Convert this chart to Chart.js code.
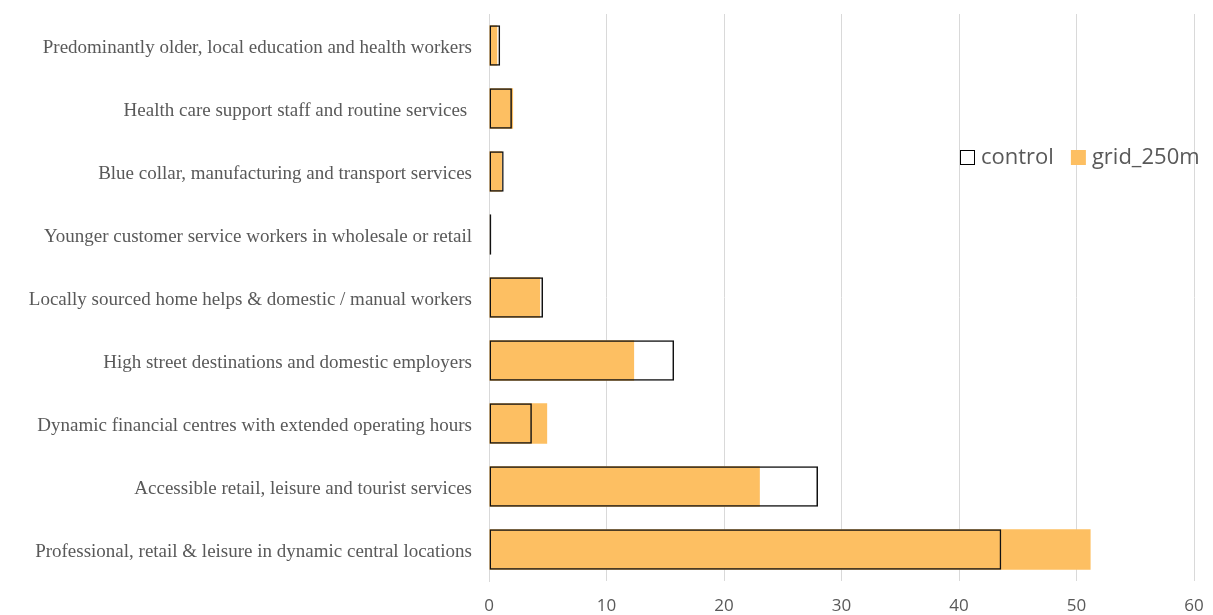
<!DOCTYPE html>
<html>
<head>
<meta charset="utf-8">
<script src="https://cdn.jsdelivr.net/npm/chart.js@4"></script>
<style>
  html, body { margin: 0; padding: 0; background: #fff; }
  #wrap { width: 1213px; height: 615px; }
</style>
</head>
<body>
<div id="wrap"><canvas id="myChart" width="1213" height="615"></canvas></div>
<script>
const categories = [
    'Predominantly older, local education and health workers',
    'Health care support staff and routine services ',
    'Blue collar, manufacturing and transport services',
    'Younger customer service workers in wholesale or retail',
    'Locally sourced home helps & domestic / manual workers',
    'High street destinations and domestic employers',
    'Dynamic financial centres with extended operating hours',
    'Accessible retail, leisure and tourist services',
    'Professional, retail & leisure in dynamic central locations'
];
const control = [0.95, 1.95, 1.25, 0.2, 4.6, 15.75, 3.65, 28.0, 43.6];
const grid250m = [0.7, 2.05, 1.1, 0.05, 4.35, 12.35, 4.95, 23.05, 51.2];
const xTicks = [0, 10, 20, 30, 40, 50, 60];

const orange = '#fdbf62';
const textGrey = '#595959';

// legend drawn inside the plot, to the right, like the original
const legendPlugin = {
    id: 'insideLegend',
    afterDraw: (chart) => {
        const ctx = chart.ctx;
        const area = chart.chartArea;
        ctx.save();
        ctx.font = '22px "Open Sans"';
        ctx.textBaseline = 'middle';
        const y = 158;
        let x = area.right - 234;
        chart.data.datasets.slice().sort((a, b) => a.legendIndex - b.legendIndex).forEach(ds => {
            if (ds.legendIndex === 0) {
                ctx.fillStyle = '#fff';
                ctx.fillRect(x + 0.5, y - 7.5, 14, 14);
                ctx.strokeStyle = '#000';
                ctx.lineWidth = 1;
                ctx.strokeRect(x + 0.5, y - 7.5, 14, 14);
            } else {
                ctx.fillStyle = ds.backgroundColor;
                ctx.fillRect(x, y - 8, 15, 15);
            }
            x += 21;
            ctx.fillStyle = textGrey;
            ctx.fillText(ds.label, x, y);
            x += ctx.measureText(ds.label).width + 17;
        });
        ctx.restore();
    }
};

const ctx = document.getElementById('myChart').getContext('2d');
const myChart = new Chart(ctx, {
    type: 'bar',
    data: {
        labels: categories,
        datasets: [{
            label: 'control',
            legendIndex: 0,
            data: control,
            backgroundColor: 'rgba(255, 255, 255, 0)',
            borderColor: '#111',
            borderWidth: 1.5,
            borderSkipped: false,
            grouped: false,
            order: 0,
            barPercentage: 0.64,
            categoryPercentage: 1
        }, {
            label: 'grid_250m',
            legendIndex: 1,
            data: grid250m,
            backgroundColor: orange,
            borderWidth: 0,
            grouped: false,
            order: 1,
            barPercentage: 0.64,
            categoryPercentage: 1
        }]
    },
    plugins: [legendPlugin],
    options: {
        indexAxis: 'y',
        responsive: false,
        animation: false,
        layout: { padding: { top: 14, right: 19, left: 0, bottom: 0 } },
        plugins: {
            legend: { display: false },
            tooltip: { enabled: false }
        },
        scales: {
            x: {
                min: 0,
                max: 60,
                afterBuildTicks: (axis) => {
                    axis.ticks = xTicks.map(v => ({ value: v }));
                },
                grid: { color: '#d9d9d9', lineWidth: 1, drawTicks: false },
                border: { display: false },
                ticks: {
                    color: textGrey,
                    font: { family: '"Open Sans"', size: 17 },
                    padding: 15
                },
                afterFit: (axis) => {
                    axis.height = 34;
                    axis.paddingLeft = 0;
                    axis.paddingRight = 0;
                }
            },
            y: {
                grid: { display: false },
                border: { display: true, color: '#d9d9d9', width: 1 },
                ticks: {
                    color: textGrey,
                    font: { family: '"Liberation Serif"', size: 19 },
                    padding: 9,
                    labelOffset: 3
                },
                afterFit: (axis) => {
                    axis.width = 489;
                    axis.paddingTop = 0;
                    axis.paddingBottom = 0;
                }
            }
        }
    }
});
</script>
</body>
</html>
